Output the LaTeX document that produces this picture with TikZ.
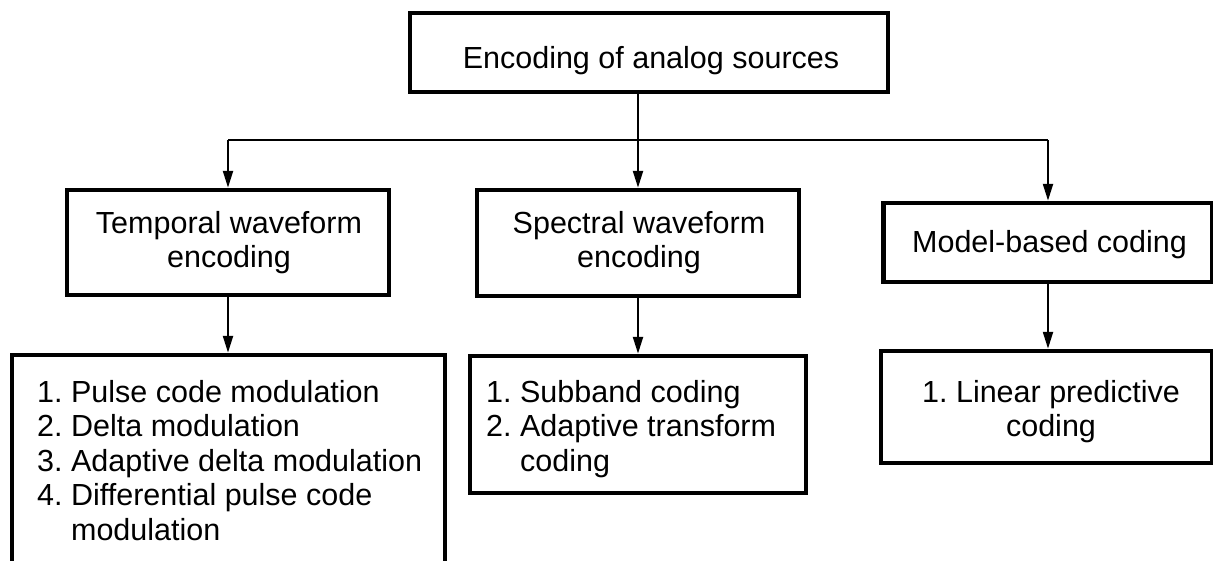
\documentclass[tikz,border=0pt]{standalone}
\usepackage{fontspec}
\setmainfont{Liberation Sans}
\usetikzlibrary{arrows.meta}
\begin{document}
\begin{tikzpicture}[x=1pt,y=-1pt,
  box/.style={draw=black, line width=4.5pt, rectangle, inner sep=0pt},
  lbl/.style={inner sep=0pt, anchor=base, font=\fontsize{30.5}{34.5}\selectfont},
  link/.style={line width=2.2pt, draw=black},
  arr/.style={link, -{Triangle[length=17pt,width=10pt]}}]
\useasboundingbox (0,0) rectangle (1213,560);
\fill[white] (0,0) rectangle (1213,560);

% top level
\node[box, minimum width=478pt, minimum height=79pt] (top) at (649,52.5) {};
\node[lbl] (toptxt) at (651,68) {Encoding of analog sources};

% second level
\node[box, minimum width=322pt, minimum height=105pt] (temp) at (228,242.5) {};
\node[lbl] (temptxt) at (229,233) {\begin{tabular}[t]{@{}c@{}}Temporal waveform\\encoding\end{tabular}};

\node[box, minimum width=322pt, minimum height=106pt] (spec) at (638,243) {};
\node[lbl] (spectxt) at (639,233) {\begin{tabular}[t]{@{}c@{}}Spectral waveform\\encoding\end{tabular}};

\node[box, minimum width=329pt, minimum height=79pt] (model) at (1048,242.5) {};
\node[lbl] (modeltxt) at (1049.5,252) {Model-based coding};

% third level
\node[box, minimum width=433pt, minimum height=208pt] (l1) at (228.5,459) {};
\node[lbl, anchor=base west] (l1txt) at (37,402) {\begin{tabular}[t]{@{}l@{\ }l@{}}1. & Pulse code modulation\\2. & Delta modulation\\3. & Adaptive delta modulation\\4. & Differential pulse code\\ & modulation\end{tabular}};

\node[box, minimum width=336pt, minimum height=137pt] (l2) at (638,424.5) {};
\node[lbl, anchor=base west] (l2txt) at (486,402) {\begin{tabular}[t]{@{}l@{\ }l@{}}1. & Subband coding\\2. & Adaptive transform\\ & coding\end{tabular}};

\node[box, minimum width=331pt, minimum height=112pt] (l3) at (1046.5,407) {};
\node[lbl] (l3txt) at (1051,402) {\begin{tabular}[t]{@{}c@{}}1.\ Linear predictive\\coding\end{tabular}};

% connectors
\coordinate (j) at (638,140);
\draw[link] (j |- top.south) -- (j);
\draw[link] (temp.north |- j) -- (model.north |- j);
\draw[arr] (temp.north |- j) -- (temp.north);
\draw[arr] (j) -- (spec.north);
\draw[arr] (model.north |- j) -- (model.north);
\draw[arr] (temp.south) -- (temp.south |- l1.north);
\draw[arr] (spec.south) -- (spec.south |- l2.north);
\draw[arr] (model.south) -- (model.south |- l3.north);
\end{tikzpicture}
\end{document}
